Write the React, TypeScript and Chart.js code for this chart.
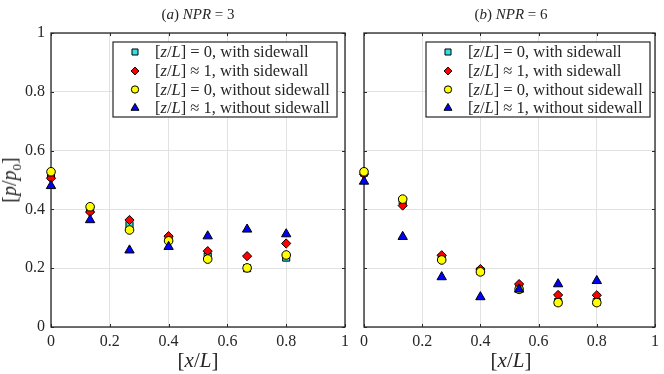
import React, { useEffect, useRef } from 'react';
import { Chart, registerables } from 'chart.js';
import { drawPoint } from 'chart.js/helpers';

Chart.register(...registerables);

// ---------- data ----------
const X_POS = [0, 0.133, 0.267, 0.4, 0.533, 0.667, 0.8];
const AXIS_TICKS = [0, 0.2, 0.4, 0.6, 0.8, 1];

const NPR3_CYAN = [0.515, 0.4, 0.347, 0.3, 0.24, 0.2, 0.236];
const NPR3_RED = [0.506, 0.391, 0.364, 0.309, 0.258, 0.241, 0.284];
const NPR3_YELLOW = [0.528, 0.409, 0.33, 0.293, 0.231, 0.201, 0.245];
const NPR3_BLUE = [0.48, 0.364, 0.261, 0.273, 0.309, 0.332, 0.316];

const NPR6_CYAN = [0.525, 0.43, 0.235, 0.19, 0.13, 0.085, 0.085];
const NPR6_RED = [0.52, 0.413, 0.244, 0.197, 0.146, 0.109, 0.108];
const NPR6_YELLOW = [0.528, 0.435, 0.228, 0.1875, 0.128, 0.083, 0.083];
const NPR6_BLUE = [0.495, 0.307, 0.17, 0.102, 0.128, 0.146, 0.157];

const LEGEND_LABELS = [
  '[z/L] = 0, with sidewall',
  '[z/L] \u2248 1, with sidewall',
  '[z/L] = 0, without sidewall',
  '[z/L] \u2248 1, without sidewall',
];

// ---------- styles ----------
const SERIES_STYLE = [
  { pointStyle: 'rect', color: '#33e0e0', radius: 5, order: 4 },
  { pointStyle: 'rectRot', color: '#ff0000', radius: 4.6, order: 3 },
  { pointStyle: 'circle', color: '#ffff00', radius: 4.3, order: 2 },
  { pointStyle: 'triangle', color: '#0000ff', radius: 5.4, order: 1 },
];

const FONT = "'Liberation Serif', 'Times New Roman', serif";
const TEXT_COLOR = '#262626';
const AXIS_COLOR = '#262626';
const GRID_COLOR = '#e2e2e2';

const fmt = (v: number) => String(Math.round(v * 10) / 10);

const framePlugin = {
  id: 'mlFrame',
  beforeDatasetsDraw(chart: any) {
    const { ctx, chartArea } = chart;
    const { left, right, top, bottom } = chartArea;
    const xs = chart.scales.x;
    const ys = chart.scales.y;
    ctx.save();
    ctx.strokeStyle = AXIS_COLOR;
    ctx.lineWidth = 1.3;
    ctx.strokeRect(left, top, right - left, bottom - top);
    ctx.lineWidth = 1;
    ctx.beginPath();
    const tl = 3;
    AXIS_TICKS.forEach((v) => {
      const px = Math.round(xs.getPixelForValue(v)) + 0.5;
      ctx.moveTo(px, bottom);
      ctx.lineTo(px, bottom - tl);
      ctx.moveTo(px, top);
      ctx.lineTo(px, top + tl);
      const py = Math.round(ys.getPixelForValue(v)) + 0.5;
      ctx.moveTo(left, py);
      ctx.lineTo(left + tl, py);
      ctx.moveTo(right, py);
      ctx.lineTo(right - tl, py);
    });
    ctx.stroke();
    ctx.restore();
  },
};

function drawLabel(ctx: CanvasRenderingContext2D, label: string, x: number, y: number, size: number) {
  const close = label.indexOf(']');
  const head = label.slice(0, close + 1);
  const tail = label.slice(close + 1);
  let cx = x;
  for (const ch of head) {
    const italic = /[A-Za-z]/.test(ch);
    ctx.font = `${italic ? 'italic ' : ''}${size}px ${FONT}`;
    ctx.fillText(ch, cx, y);
    cx += ctx.measureText(ch).width;
  }
  ctx.font = `${size}px ${FONT}`;
  ctx.fillText(tail, cx, y);
}

const legendPlugin = {
  id: 'mlLegend',
  afterDatasetsDraw(chart: any) {
    const { ctx, chartArea } = chart;
    const x0 = Math.round(chartArea.left + 62);
    const y0 = Math.round(chartArea.top + 9);
    const w = 224;
    const h = 75;
    ctx.save();
    ctx.fillStyle = '#ffffff';
    ctx.fillRect(x0, y0, w, h);
    ctx.strokeStyle = AXIS_COLOR;
    ctx.lineWidth = 1.2;
    ctx.strokeRect(x0, y0, w, h);
    const rows = [10, 29, 47.5, 66];
    LEGEND_LABELS.forEach((label, i) => {
      const st = SERIES_STYLE[i];
      const cy = y0 + rows[i];
      ctx.fillStyle = st.color;
      ctx.strokeStyle = '#000000';
      ctx.lineWidth = 1;
      drawPoint(ctx, { pointStyle: st.pointStyle, radius: st.radius * 0.85, rotation: 0, borderWidth: 1 } as any, x0 + 22, cy);
      ctx.fillStyle = TEXT_COLOR;
      ctx.textBaseline = 'middle';
      ctx.textAlign = 'left';
      drawLabel(ctx, label, x0 + 42, cy + 1, 16.5);
    });
    ctx.restore();
  },
};

function makeDatasets(series: number[][]) {
  return series.map((vals, i) => {
    const st = SERIES_STYLE[i];
    return {
      label: LEGEND_LABELS[i],
      data: X_POS.map((x, j) => ({ x, y: vals[j] })),
      pointStyle: st.pointStyle,
      pointRadius: st.radius,
      pointHoverRadius: st.radius,
      pointBackgroundColor: st.color,
      pointBorderColor: '#000000',
      pointBorderWidth: 1,
      showLine: false,
      order: st.order,
      clip: false,
    };
  });
}

function makeConfig(series: number[][], showY: boolean, yWidth: number, padRight: number): any {
  const tickFont = { family: FONT, size: 16 };
  return {
    type: 'scatter',
    data: { datasets: makeDatasets(series) },
    options: {
      responsive: false,
      animation: false,
      events: [],
      layout: { padding: { left: 0, right: padRight, top: 33, bottom: 0 } },
      plugins: { legend: { display: false }, tooltip: { enabled: false }, title: { display: false } },
      scales: {
        x: {
          type: 'linear',
          min: 0,
          max: 1,
          ticks: {
            stepSize: 0.2,
            font: tickFont,
            color: TEXT_COLOR,
            padding: 5,
            maxRotation: 0,
            autoSkip: false,
            callback: (v: number) => fmt(v),
          },
          grid: { color: GRID_COLOR, drawTicks: false, lineWidth: 1 },
          border: { display: false },
          afterFit: (s: any) => {
            s.height = 47;
          },
        },
        y: {
          type: 'linear',
          min: 0,
          max: 1,
          ticks: {
            display: showY,
            stepSize: 0.2,
            font: tickFont,
            color: TEXT_COLOR,
            padding: 6,
            callback: (v: number) => fmt(v),
          },
          grid: { color: GRID_COLOR, drawTicks: false, lineWidth: 1 },
          border: { display: false },
          afterFit: (s: any) => {
            s.width = yWidth;
          },
        },
      },
    },
    plugins: [framePlugin, legendPlugin],
  };
}

function Panel(props: { series: number[][]; showY: boolean; yWidth: number; padRight: number; left: number; width: number }) {
  const ref = useRef<HTMLCanvasElement | null>(null);
  useEffect(() => {
    if (!ref.current) return;
    const chart = new Chart(ref.current, makeConfig(props.series, props.showY, props.yWidth, props.padRight));
    return () => chart.destroy();
  }, []);
  return (
    <canvas
      ref={ref}
      width={props.width}
      height={374}
      style={{ position: 'absolute', left: props.left, top: 0, width: props.width, height: 374 }}
    />
  );
}

const textBase: React.CSSProperties = {
  position: 'absolute',
  fontFamily: FONT,
  color: TEXT_COLOR,
  whiteSpace: 'nowrap',
  lineHeight: 1,
};

export default function App() {
  useEffect(() => {
    document.body.style.margin = '0';
  }, []);
  return (
    <div style={{ position: 'relative', width: 664, height: 374, background: '#fff', overflow: 'hidden' }}>
      <Panel series={[NPR3_CYAN, NPR3_RED, NPR3_YELLOW, NPR3_BLUE]} showY={true} yWidth={51} padRight={10} left={0} width={355} />
      <Panel series={[NPR6_CYAN, NPR6_RED, NPR6_YELLOW, NPR6_BLUE]} showY={false} yWidth={9} padRight={6} left={355} width={309} />
      <div style={{ ...textBase, left: 51, width: 294, top: 7, textAlign: 'center', fontSize: 15 }}>
        (<i>a</i>) <i>NPR</i> = 3
      </div>
      <div style={{ ...textBase, left: 364, width: 294, top: 7, textAlign: 'center', fontSize: 15 }}>
        (<i>b</i>) <i>NPR</i> = 6
      </div>
      <div style={{ ...textBase, left: 51, width: 294, top: 350, textAlign: 'center', fontSize: 21 }}>
        [<i>x</i>/<i>L</i>]
      </div>
      <div style={{ ...textBase, left: 364, width: 294, top: 350, textAlign: 'center', fontSize: 21 }}>
        [<i>x</i>/<i>L</i>]
      </div>
      <div
        style={{
          ...textBase,
          left: 11,
          top: 180,
          fontSize: 20,
          transform: 'translate(-50%, -50%) rotate(-90deg)',
        }}
      >
        [<i>p</i>/<i>p</i>
        <sub style={{ fontSize: 13 }}>0</sub>]
      </div>
    </div>
  );
}
